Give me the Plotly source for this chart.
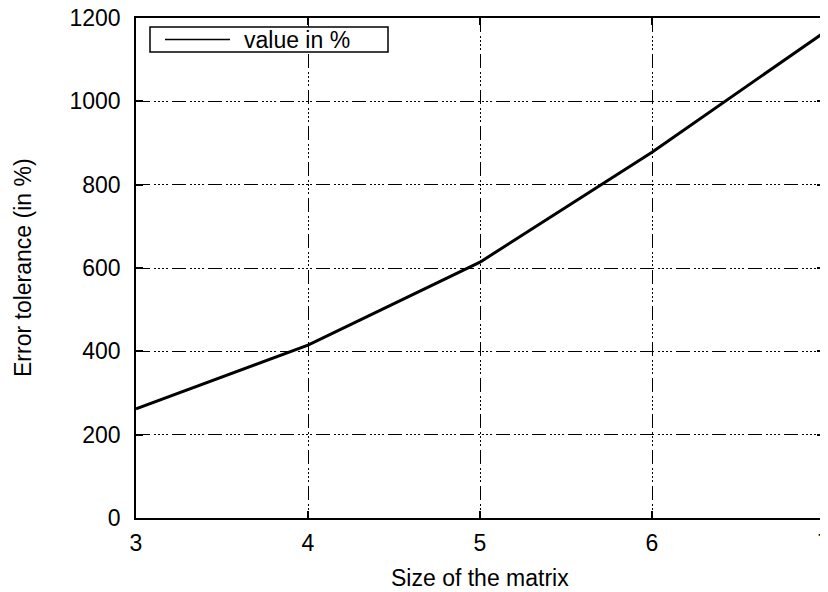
import plotly.graph_objects as go

matrix_size = [3, 4, 5, 6, 7]
tolerance_pct = [262, 415, 614, 878, 1165]
series_name = "value in %"
x_ticks = [3, 4, 5, 6, 7]
y_ticks = [0, 200, 400, 600, 800, 1000, 1200]
x_title = "Size of the matrix"
y_title = "Error tolerance (in %)"

FONT = "Liberation Sans, Arial, sans-serif"
FS = 23
grid_dash = "14px,4px,2px,2px,2px,2px,2px,2px,2px,4px"

# page body has an 8px margin, so the figure is drawn 8px in from the window edge
OFF = 8
W, H = 828, 592 - OFF
# plot area in window pixels: x 136..824, y 18..518
L, T = 136 - OFF, 18 - OFF
R, B = W - (824 - OFF), H - (518 - OFF)
pw, ph = W - L - R, H - T - B

def px_x(p):
    return (p - OFF - L) / pw

def px_y(p):
    return 1 - (p - OFF - T) / ph

fig = go.Figure()
fig.add_trace(go.Scatter(
    x=matrix_size, y=tolerance_pct, mode="lines", name=series_name,
    line=dict(color="black", width=3), showlegend=False,
))

# legend box (drawn manually to match the compact gnuplot key)
fig.add_shape(type="rect", xref="paper", yref="paper",
              x0=px_x(150), x1=px_x(388), y0=px_y(52), y1=px_y(27),
              line=dict(color="black", width=1.5), fillcolor="white", layer="above")
fig.add_shape(type="line", xref="paper", yref="paper",
              x0=px_x(165), x1=px_x(230), y0=px_y(39.5), y1=px_y(39.5),
              line=dict(color="black", width=1.5), layer="above")
fig.add_annotation(xref="paper", yref="paper", x=px_x(242), y=px_y(40),
                   xanchor="left", yanchor="middle", showarrow=False,
                   text=series_name, font=dict(family=FONT, size=FS, color="black"))

# axis titles
fig.add_annotation(xref="paper", yref="paper", x=px_x(480), y=px_y(578),
                   xanchor="center", yanchor="middle", showarrow=False,
                   text=x_title, font=dict(family=FONT, size=FS, color="black"))
fig.add_annotation(xref="paper", yref="paper", x=px_x(23), y=px_y(268),
                   xanchor="center", yanchor="middle", showarrow=False, textangle=-90,
                   text=y_title, font=dict(family=FONT, size=FS, color="black"))

fig.update_layout(
    width=W, height=H,
    margin=dict(l=L, r=R, t=T, b=B, autoexpand=False),
    paper_bgcolor="white", plot_bgcolor="white",
    font=dict(family=FONT, size=FS, color="black"),
    showlegend=False,
)
fig.update_xaxes(
    range=[3, 7], tickvals=x_ticks, ticktext=[str(v) for v in x_ticks],
    showline=True, linecolor="black", linewidth=1.5, mirror="ticks",
    ticks="inside", ticklen=7, tickcolor="black", tickwidth=1.5,
    showgrid=True, gridcolor="black", gridwidth=1, griddash=grid_dash,
    zeroline=False, automargin=False, ticklabelstandoff=4,
    ticklabeloverflow="allow",
)
fig.update_yaxes(
    range=[0, 1200], tickvals=y_ticks,
    showline=True, linecolor="black", linewidth=1.5, mirror="ticks",
    ticks="inside", ticklen=7, tickcolor="black", tickwidth=1.5,
    showgrid=True, gridcolor="black", gridwidth=1, griddash=grid_dash,
    zeroline=False, automargin=False, ticklabelstandoff=9,
    ticklabeloverflow="allow",
)

fig.write_html("out.html")
